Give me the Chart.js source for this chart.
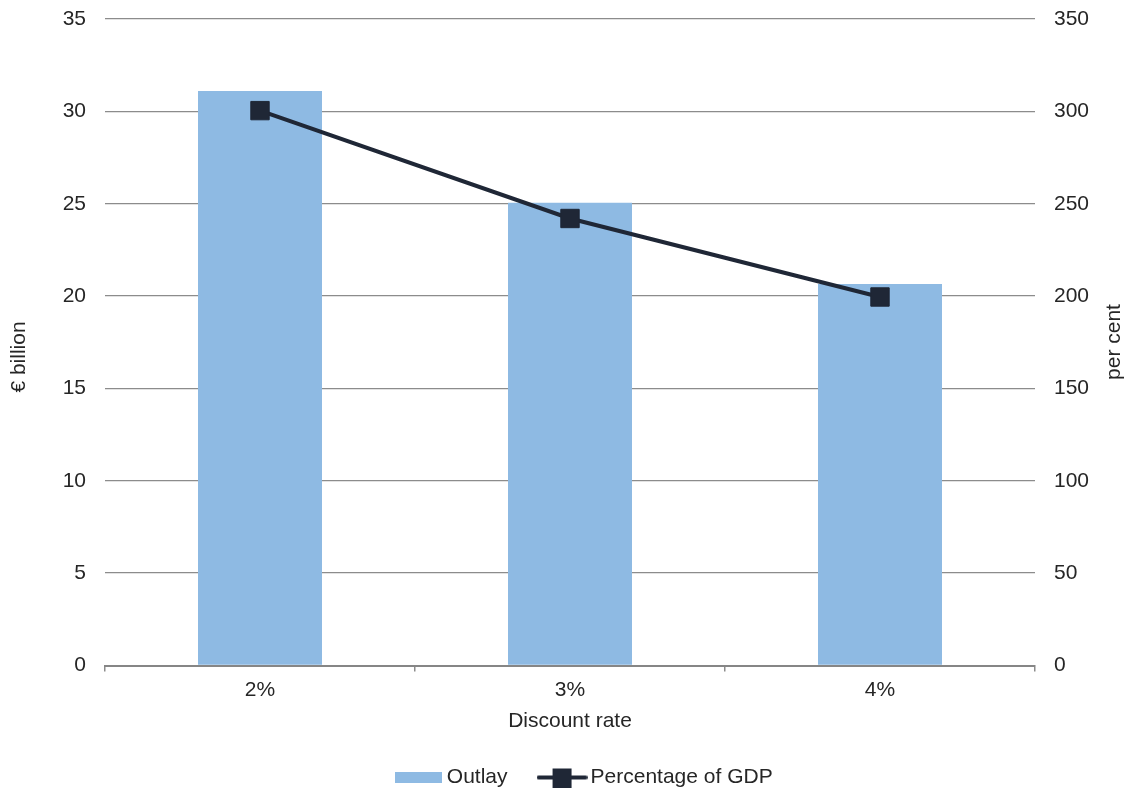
<!DOCTYPE html>
<html>
<head>
<meta charset="utf-8">
<script src="https://cdn.jsdelivr.net/npm/chart.js@4.4.1/dist/chart.umd.min.js"></script>
<style>
  html, body { margin: 0; padding: 0; background: #fff; }
  #wrap { width: 1125px; height: 791px; position: relative; }
</style>
</head>
<body>
<div id="wrap"><canvas id="outlayChart"></canvas></div>
<script>
// Data
var categories = ['2%', '3%', '4%'];
var outlay = [31.1, 25.05, 20.65];        // € billion (left axis)
var pctOfGdp = [300.4, 242.0, 199.5];     // per cent (right axis)
var leftTicks = [0, 5, 10, 15, 20, 25, 30, 35];
var rightTicks = [0, 50, 100, 150, 200, 250, 300, 350];

var barColour = '#8EBAE3';
var lineColour = '#1F2736';
var textColour = '#262626';
var gridColour = '#8C8C8C';
var fontFamily = '"Liberation Sans", Arial, sans-serif';

// small canvases used as legend swatches
function barSwatch() {
    var c = document.createElement('canvas');
    c.width = 47; c.height = 11;
    var g = c.getContext('2d');
    g.fillStyle = barColour;
    g.fillRect(0, 0, 47, 11);
    return c;
}
function lineSwatch() {
    var c = document.createElement('canvas');
    c.width = 51; c.height = 20;
    var g = c.getContext('2d');
    g.strokeStyle = lineColour;
    g.lineWidth = 4;
    g.lineCap = 'round';
    g.beginPath();
    g.moveTo(2, 10); g.lineTo(49, 10);
    g.stroke();
    g.fillStyle = lineColour;
    g.fillRect(16, 1, 19, 19);
    return c;
}

// rotated axis titles, both reading bottom to top
var axisTitles = {
    id: 'axisTitles',
    afterDraw: function(chart) {
        var ctx = chart.ctx;
        ctx.save();
        ctx.fillStyle = textColour;
        ctx.font = '21px ' + fontFamily;
        ctx.textAlign = 'center';
        ctx.textBaseline = 'middle';
        [['€ billion', 19, 357], ['per cent', 1114, 342]].forEach(function(t) {
            ctx.save();
            ctx.translate(t[1], t[2]);
            ctx.rotate(-Math.PI / 2);
            ctx.fillText(t[0], 0, 0);
            ctx.restore();
        });
        ctx.restore();
    }
};

// nudge the legend row a little right and down
var legendNudge = {
    id: 'legendNudge',
    afterLayout: function(chart) {
        var l = chart.legend;
        l.left += 24; l.right += 24;
        l.top += 7; l.bottom += 7;
    }
};

// fixed width for the value axes, and no extra top/bottom padding from tick labels
function valueAxisFit(width) {
    return function(scale) {
        scale.width = width;
        scale.paddingTop = 0;
        scale.paddingBottom = 0;
    };
}

Chart.defaults.font.family = fontFamily;
Chart.defaults.font.size = 21;
Chart.defaults.color = textColour;

var ctx = document.getElementById('outlayChart').getContext('2d');
var chart = new Chart(ctx, {
    type: 'bar',
    data: {
        labels: categories,
        datasets: [{
            type: 'line',
            label: 'Percentage of GDP',
            data: pctOfGdp,
            yAxisID: 'yRight',
            borderColor: lineColour,
            backgroundColor: lineColour,
            borderWidth: 4,
            pointStyle: 'rect',
            pointRadius: 13,
            pointBorderWidth: 1,
            pointBackgroundColor: lineColour,
            tension: 0
        }, {
            type: 'bar',
            label: 'Outlay',
            data: outlay,
            yAxisID: 'yLeft',
            backgroundColor: barColour,
            barPercentage: 0.4,
            categoryPercentage: 1.0
        }]
    },
    options: {
        responsive: true,
        maintainAspectRatio: false,
        animation: false,
        layout: { padding: { top: 19, left: 0, right: 0, bottom: 0 } },
        plugins: {
            tooltip: { enabled: false },
            legend: {
                position: 'bottom',
                labels: {
                    usePointStyle: true,
                    pointStyleWidth: 36,
                    padding: 36.5,
                    font: { size: 21 },
                    generateLabels: function() {
                        return [
                            { text: 'Outlay', pointStyle: barSwatch(), fontColor: textColour, lineWidth: 0, datasetIndex: 1 },
                            { text: 'Percentage of GDP', pointStyle: lineSwatch(), fontColor: textColour, lineWidth: 0, datasetIndex: 0 }
                        ];
                    }
                }
            }
        },
        scales: {
            x: {
                grid: {
                    offset: true,
                    drawOnChartArea: false,
                    drawTicks: true,
                    tickLength: 6,
                    color: gridColour,
                    lineWidth: 1.5
                },
                border: { display: true, color: '#868686', width: 2 },
                ticks: { padding: 6, color: textColour },
                title: {
                    display: true,
                    text: 'Discount rate',
                    color: textColour,
                    font: { size: 21 },
                    padding: { top: 0, bottom: -10 }
                },
                afterFit: function(scale) { scale.height = 58; }
            },
            yLeft: {
                position: 'left',
                min: 0,
                max: 35,
                afterBuildTicks: function(scale) {
                    scale.ticks = leftTicks.map(function(v) { return { value: v }; });
                },
                grid: { color: gridColour, lineWidth: 1.3, drawTicks: false },
                border: { display: false },
                ticks: { padding: 19, color: textColour },
                afterFit: valueAxisFit(105)
            },
            yRight: {
                position: 'right',
                min: 0,
                max: 350,
                afterBuildTicks: function(scale) {
                    scale.ticks = rightTicks.map(function(v) { return { value: v }; });
                },
                grid: { drawOnChartArea: false, drawTicks: false },
                border: { display: false },
                ticks: { padding: 19, color: textColour },
                afterFit: valueAxisFit(90)
            }
        }
    },
    plugins: [axisTitles, legendNudge]
});
</script>
</body>
</html>
